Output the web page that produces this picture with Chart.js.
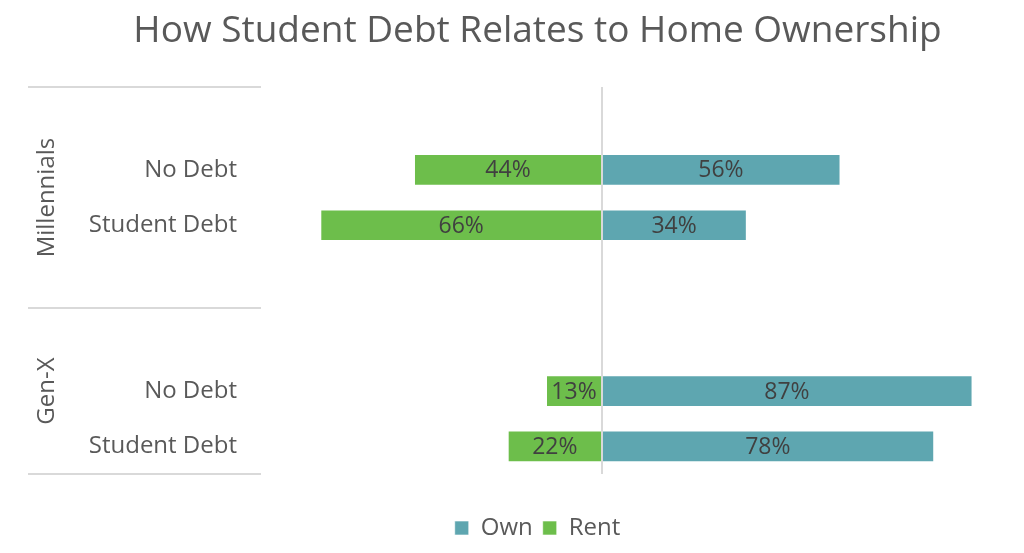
<!DOCTYPE html>
<html>
<head>
<meta charset="utf-8">
<script src="https://cdn.jsdelivr.net/npm/chart.js@4"></script>
<style>
  html, body { margin: 0; padding: 0; background: #fff; }
  #wrap { width: 1024px; height: 553px; }
</style>
</head>
<body>
<div id="wrap"><canvas id="chart"></canvas></div>
<script>
// rows: blank spacer rows sit between the two generation groups
const categories = ["", "No Debt", "Student Debt", "", "", "No Debt", "Student Debt"];
const ownValues = [null, 56, 34, null, null, 87, 78];
const rentValues = [null, -44, -66, null, null, -13, -22];
const groupNames = ["Millennials", "Gen-X"];
const groupRanges = [[-0.5, 3.5], [3.5, 6.5]];

const GRAY = "#595959";
const LINE = "#d9d9d9";

Chart.defaults.font.family = "'Open Sans', sans-serif";
Chart.defaults.color = GRAY;

const decorations = {
    id: "decorations",
    afterDatasetsDraw(chart) {
        const ctx = chart.ctx;
        const x = chart.scales.x;
        const y = chart.scales.y;
        const area = chart.chartArea;

        // zero line
        ctx.save();
        ctx.strokeStyle = LINE;
        ctx.lineWidth = 2;
        const zx = Math.round(x.getPixelForValue(0));
        ctx.beginPath();
        ctx.moveTo(zx, area.top);
        ctx.lineTo(zx, area.bottom);
        ctx.stroke();

        // group separators on the left
        const edges = [-0.5, 3.5, 6.5];
        edges.forEach(v => {
            const py = Math.round(y.getPixelForValue(v));
            ctx.beginPath();
            ctx.moveTo(28, py);
            ctx.lineTo(area.left, py);
            ctx.stroke();
        });

        // group names, rotated
        ctx.fillStyle = GRAY;
        ctx.font = "24px 'Open Sans', sans-serif";
        ctx.textAlign = "center";
        ctx.textBaseline = "middle";
        groupNames.forEach((name, i) => {
            const mid = (groupRanges[i][0] + groupRanges[i][1]) / 2;
            const py = y.getPixelForValue(mid);
            ctx.save();
            ctx.translate(47, py);
            ctx.rotate(-Math.PI / 2);
            ctx.fillText(name, 0, 0);
            ctx.restore();
        });

        // value labels inside bars
        ctx.fillStyle = "#404040";
        ctx.font = "23px 'Open Sans', sans-serif";
        chart.data.datasets.forEach((ds, di) => {
            const meta = chart.getDatasetMeta(di);
            meta.data.forEach((bar, i) => {
                const v = ds.data[i];
                if (v === null) return;
                const cx = (bar.x + bar.base) / 2;
                ctx.fillText(Math.abs(v) + "%", cx, bar.y + 1);
            });
        });
        ctx.restore();
    }
};

new Chart(document.getElementById("chart"), {
    type: "bar",
    data: {
        labels: categories,
        datasets: [
            {
                label: "Own",
                data: ownValues,
                backgroundColor: "#5ea6b0",
                borderColor: "rgba(255,255,255,0.6)",
                borderWidth: 1,
                borderSkipped: false,
                barThickness: 31
            },
            {
                label: "Rent",
                data: rentValues,
                backgroundColor: "#6dbe4b",
                borderColor: "rgba(255,255,255,0.6)",
                borderWidth: 1,
                borderSkipped: false,
                barThickness: 31
            }
        ]
    },
    options: {
        indexAxis: "y",
        responsive: true,
        maintainAspectRatio: false,
        animation: false,
        layout: { padding: { left: 90, right: 39, top: 0, bottom: 3 } },
        scales: {
            x: {
                stacked: true,
                min: -80,
                max: 90,
                ticks: { display: false },
                grid: { display: false, drawTicks: false },
                border: { display: false },
                afterFit(scale) { scale.height = 32; }
            },
            y: {
                stacked: true,
                grid: { display: false, drawTicks: false },
                border: { display: false },
                ticks: {
                    color: GRAY,
                    font: { size: 24 },
                    padding: 24,
                    autoSkip: false
                },
                afterFit(scale) { scale.width = 171; }
            }
        },
        plugins: {
            title: {
                display: true,
                text: "How Student Debt Relates to Home Ownership",
                color: GRAY,
                font: { size: 37, weight: "normal" },
                padding: { top: 9, bottom: 33.6 }
            },
            legend: {
                position: "bottom",
                labels: {
                    color: GRAY,
                    font: { size: 24 },
                    boxWidth: 14,
                    boxHeight: 14,
                    padding: 10
                }
            },
            tooltip: { enabled: false }
        }
    },
    plugins: [decorations]
});
</script>
</body>
</html>
